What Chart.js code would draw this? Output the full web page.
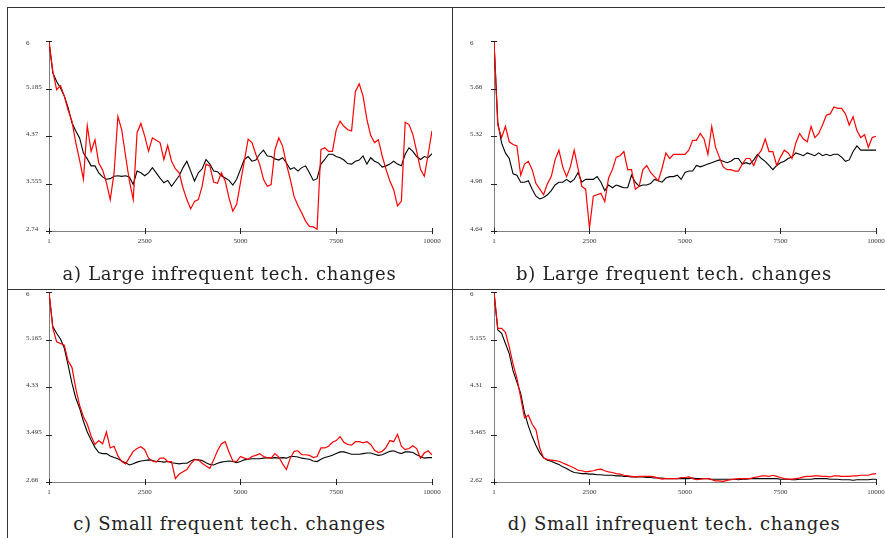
<!DOCTYPE html>
<html>
<head>
<meta charset="utf-8">
<script src="https://cdn.jsdelivr.net/npm/chart.js@4.4.1/dist/chart.umd.min.js"></script>
<style>
  html, body { margin: 0; padding: 0; background: #fff; overflow: hidden; }
  #page { position: relative; width: 885px; height: 538px; }
  canvas { position: absolute; }
  .rule { position: absolute; background: #333; }
  .caption { position: absolute; font-family: "DejaVu Serif", serif; font-size: 18px; line-height: 18px; letter-spacing: 0.7px; color: #222; text-align: center; white-space: nowrap; }
</style>
</head>
<body>
<div id="page">
  <div class="rule" style="left:7px;top:7px;width:878px;height:1px"></div>
  <div class="rule" style="left:7px;top:7px;width:1px;height:531px"></div>
  <div class="rule" style="left:452px;top:7px;width:1px;height:531px"></div>
  <div class="rule" style="left:7px;top:289px;width:878px;height:1px"></div>

  <canvas id="chartA" width="430" height="225" style="left:20px;top:30px"></canvas>
  <canvas id="chartB" width="430" height="225" style="left:464px;top:30px"></canvas>
  <canvas id="chartC" width="430" height="225" style="left:20px;top:281px"></canvas>
  <canvas id="chartD" width="430" height="225" style="left:464px;top:281px"></canvas>

  <div class="caption" style="left:7px;top:265px;width:445px">a) Large infrequent tech. changes</div>
  <div class="caption" style="left:452px;top:265px;width:444px">b) Large frequent tech. changes</div>
  <div class="caption" style="left:7px;top:515px;width:445px">c) Small frequent tech. changes</div>
  <div class="caption" style="left:452px;top:515px;width:444px">d) Small infrequent tech. changes</div>
</div>
<script>
// time steps (x) and x tick labels
const steps = [1, 100, 200, 300, 400, 500, 600, 700, 800, 900,
  1000, 1100, 1200, 1300, 1400, 1500, 1600, 1700, 1800, 1900,
  2000, 2100, 2200, 2300, 2400, 2500, 2600, 2700, 2800, 2900,
  3000, 3100, 3200, 3300, 3400, 3500, 3600, 3700, 3800, 3900,
  4000, 4100, 4200, 4300, 4400, 4500, 4600, 4700, 4800, 4900,
  5000, 5100, 5200, 5300, 5400, 5500, 5600, 5700, 5800, 5900,
  6000, 6100, 6200, 6300, 6400, 6500, 6600, 6700, 6800, 6900,
  7000, 7100, 7200, 7300, 7400, 7500, 7600, 7700, 7800, 7900,
  8000, 8100, 8200, 8300, 8400, 8500, 8600, 8700, 8800, 8900,
  9000, 9100, 9200, 9300, 9400, 9500, 9600, 9700, 9800, 9900,
  10000];
const xTicks = [1, 2500, 5000, 7500, 10000];

// a) Large infrequent tech. changes
const yTicksA = [2.74, 3.555, 4.37, 5.185, 6];
const redA = [6.00, 5.49, 5.17, 5.24, 5.06, 4.82, 4.63, 4.26, 3.96, 3.63,
  4.55, 4.11, 4.31, 3.91, 3.79, 3.57, 3.28, 3.74, 4.71, 4.48,
  4.03, 3.60, 3.28, 4.43, 4.59, 4.37, 4.11, 4.34, 4.30, 4.26,
  3.97, 4.21, 3.94, 3.81, 3.74, 3.48, 3.28, 3.12, 3.25, 3.28,
  3.51, 3.89, 3.86, 3.58, 3.56, 3.74, 3.60, 3.31, 3.08, 3.20,
  3.57, 3.94, 4.32, 4.26, 4.06, 3.89, 3.63, 3.51, 3.54, 4.14,
  4.34, 4.20, 3.89, 3.63, 3.33, 3.18, 3.05, 2.91, 2.82, 2.81,
  2.77, 4.14, 4.17, 4.11, 4.11, 4.48, 4.63, 4.54, 4.48, 4.46,
  5.14, 5.27, 5.06, 4.66, 4.38, 4.26, 4.31, 4.03, 3.80, 3.60,
  3.45, 3.17, 3.25, 4.61, 4.57, 4.40, 4.11, 3.80, 3.68, 4.06,
  4.46];
const blackA = [6.00, 5.46, 5.31, 5.20, 5.06, 4.86, 4.60, 4.46, 4.34, 4.08,
  3.98, 3.86, 3.86, 3.74, 3.67, 3.63, 3.64, 3.68, 3.69, 3.68,
  3.69, 3.67, 3.54, 3.77, 3.74, 3.69, 3.74, 3.83, 3.74, 3.65,
  3.57, 3.61, 3.51, 3.60, 3.69, 3.83, 3.94, 3.77, 3.60, 3.74,
  3.81, 3.97, 3.89, 3.77, 3.76, 3.69, 3.65, 3.61, 3.53, 3.63,
  3.80, 3.97, 4.02, 3.94, 3.96, 4.06, 4.13, 4.03, 4.02, 3.98,
  3.96, 4.00, 3.91, 3.80, 3.83, 3.77, 3.83, 3.86, 3.74, 3.61,
  3.64, 3.89, 3.97, 4.06, 4.06, 4.02, 4.00, 3.96, 3.90, 3.89,
  3.94, 3.96, 4.03, 3.89, 4.00, 3.94, 3.91, 3.84, 3.86, 3.89,
  3.94, 3.89, 3.86, 4.06, 4.17, 4.11, 4.02, 3.97, 4.02, 4.00,
  4.07];

// b) Large frequent tech. changes
const yTicksB = [4.64, 4.98, 5.32, 5.66, 6];
const redB = [6.00, 5.40, 5.31, 5.39, 5.28, 5.26, 5.25, 5.04, 5.12, 5.14,
  5.08, 4.98, 4.94, 4.90, 4.98, 5.03, 5.15, 5.22, 5.10, 5.03,
  5.10, 5.22, 5.09, 4.96, 4.94, 4.66, 4.89, 4.90, 4.91, 4.85,
  5.02, 5.08, 5.17, 5.18, 5.21, 5.08, 5.08, 4.94, 4.96, 5.08,
  5.11, 5.06, 5.03, 5.00, 5.09, 5.20, 5.16, 5.19, 5.19, 5.19,
  5.19, 5.22, 5.29, 5.29, 5.34, 5.30, 5.19, 5.39, 5.24, 5.17,
  5.10, 5.08, 5.08, 5.07, 5.07, 5.12, 5.16, 5.16, 5.11, 5.18,
  5.22, 5.30, 5.21, 5.21, 5.11, 5.17, 5.22, 5.20, 5.16, 5.27,
  5.34, 5.30, 5.28, 5.39, 5.31, 5.34, 5.40, 5.47, 5.48, 5.53,
  5.52, 5.52, 5.48, 5.40, 5.46, 5.36, 5.31, 5.33, 5.24, 5.31,
  5.32];
const blackB = [6.00, 5.42, 5.27, 5.20, 5.16, 5.05, 5.04, 4.99, 4.99, 5.00,
  4.94, 4.89, 4.87, 4.88, 4.90, 4.93, 4.97, 4.99, 4.99, 5.01,
  4.99, 5.01, 5.06, 4.99, 5.01, 5.01, 5.01, 5.03, 4.99, 4.93,
  4.97, 4.95, 4.97, 4.96, 4.95, 4.95, 5.04, 4.99, 4.96, 4.97,
  4.97, 4.98, 5.01, 5.00, 4.99, 5.02, 5.03, 5.03, 5.04, 5.01,
  5.06, 5.07, 5.07, 5.11, 5.10, 5.11, 5.12, 5.13, 5.14, 5.15,
  5.14, 5.13, 5.14, 5.16, 5.16, 5.12, 5.13, 5.12, 5.15, 5.19,
  5.16, 5.14, 5.11, 5.08, 5.11, 5.13, 5.14, 5.16, 5.17, 5.20,
  5.19, 5.18, 5.20, 5.19, 5.18, 5.20, 5.18, 5.19, 5.18, 5.19,
  5.19, 5.17, 5.14, 5.15, 5.21, 5.25, 5.22, 5.22, 5.22, 5.22,
  5.22];

// c) Small frequent tech. changes
const yTicksC = [2.66, 3.495, 4.33, 5.165, 6];
const redC = [6.00, 5.37, 5.13, 5.10, 5.07, 4.79, 4.68, 4.31, 4.01, 3.81,
  3.68, 3.47, 3.32, 3.39, 3.33, 3.54, 3.26, 3.29, 3.12, 3.02,
  2.98, 3.09, 3.20, 3.25, 3.28, 3.23, 3.08, 3.03, 3.01, 3.08,
  3.08, 3.02, 3.02, 2.72, 2.80, 2.84, 2.88, 2.98, 3.05, 3.05,
  2.99, 2.94, 2.90, 3.05, 3.21, 3.33, 3.37, 3.19, 3.03, 3.02,
  3.11, 3.08, 3.06, 3.11, 3.13, 3.16, 3.11, 3.09, 3.08, 3.16,
  3.10, 2.98, 2.88, 3.08, 3.20, 3.21, 3.14, 3.14, 3.13, 3.09,
  3.11, 3.26, 3.26, 3.29, 3.36, 3.39, 3.46, 3.36, 3.32, 3.31,
  3.37, 3.37, 3.35, 3.37, 3.32, 3.22, 3.18, 3.20, 3.27, 3.39,
  3.37, 3.50, 3.29, 3.23, 3.25, 3.30, 3.25, 3.08, 3.17, 3.21,
  3.14];
const blackC = [6.00, 5.40, 5.28, 5.18, 5.02, 4.72, 4.40, 4.14, 3.96, 3.73,
  3.54, 3.40, 3.27, 3.18, 3.16, 3.16, 3.12, 3.09, 3.07, 3.03,
  3.00, 2.96, 2.98, 3.01, 3.03, 3.04, 3.05, 3.04, 3.02, 3.02,
  3.01, 3.02, 3.00, 2.99, 2.98, 2.99, 2.99, 3.03, 3.06, 3.05,
  3.04, 3.00, 2.97, 2.96, 2.99, 3.01, 3.02, 3.03, 3.02, 3.00,
  3.02, 3.05, 3.06, 3.07, 3.07, 3.07, 3.08, 3.09, 3.08, 3.09,
  3.08, 3.09, 3.08, 3.11, 3.11, 3.10, 3.08, 3.07, 3.06, 3.03,
  3.02, 3.06, 3.09, 3.11, 3.13, 3.16, 3.19, 3.19, 3.17, 3.15,
  3.15, 3.15, 3.16, 3.17, 3.17, 3.15, 3.13, 3.14, 3.17, 3.20,
  3.21, 3.18, 3.16, 3.19, 3.19, 3.18, 3.14, 3.11, 3.08, 3.09,
  3.09];

// d) Small infrequent tech. changes
const yTicksD = [2.62, 3.465, 4.31, 5.155, 6];
const redD = [6.00, 5.36, 5.36, 5.29, 5.03, 4.72, 4.47, 4.13, 3.76, 3.81,
  3.65, 3.55, 3.22, 3.05, 3.02, 3.01, 3.00, 2.99, 2.96, 2.93,
  2.90, 2.87, 2.83, 2.82, 2.80, 2.81, 2.82, 2.84, 2.85, 2.82,
  2.80, 2.79, 2.77, 2.76, 2.74, 2.73, 2.72, 2.71, 2.72, 2.72,
  2.72, 2.72, 2.71, 2.69, 2.67, 2.68, 2.68, 2.68, 2.68, 2.70,
  2.70, 2.71, 2.68, 2.66, 2.67, 2.68, 2.68, 2.66, 2.64, 2.64,
  2.63, 2.65, 2.66, 2.67, 2.68, 2.68, 2.68, 2.68, 2.70, 2.71,
  2.73, 2.73, 2.72, 2.74, 2.72, 2.70, 2.68, 2.67, 2.67, 2.68,
  2.69, 2.71, 2.72, 2.72, 2.73, 2.73, 2.72, 2.72, 2.71, 2.73,
  2.73, 2.72, 2.72, 2.72, 2.73, 2.73, 2.74, 2.74, 2.74, 2.76,
  2.77];
const blackD = [6.00, 5.33, 5.27, 5.09, 4.91, 4.60, 4.40, 4.20, 3.85, 3.62,
  3.43, 3.27, 3.14, 3.05, 3.01, 2.99, 2.96, 2.93, 2.89, 2.86,
  2.82, 2.79, 2.78, 2.77, 2.77, 2.76, 2.76, 2.75, 2.75, 2.74,
  2.74, 2.74, 2.73, 2.73, 2.72, 2.72, 2.71, 2.71, 2.71, 2.71,
  2.70, 2.70, 2.69, 2.69, 2.69, 2.68, 2.68, 2.68, 2.68, 2.68,
  2.68, 2.68, 2.69, 2.68, 2.68, 2.68, 2.68, 2.67, 2.67, 2.67,
  2.67, 2.67, 2.67, 2.67, 2.66, 2.67, 2.67, 2.68, 2.68, 2.68,
  2.68, 2.68, 2.68, 2.68, 2.68, 2.67, 2.67, 2.67, 2.66, 2.66,
  2.67, 2.67, 2.67, 2.67, 2.68, 2.68, 2.68, 2.68, 2.67, 2.67,
  2.67, 2.66, 2.66, 2.66, 2.65, 2.66, 2.66, 2.66, 2.66, 2.67,
  2.67];

const tickFont = { family: '"Liberation Serif", "Times New Roman", serif', size: 7, lineHeight: 1.2 };

// small tick marks that cross the axis lines, like the original plot
const crossTicks = {
  id: 'crossTicks',
  afterDraw(chart) {
    const { ctx, scales: { x, y } } = chart;
    ctx.save();
    ctx.strokeStyle = '#222';
    ctx.lineWidth = 1;
    ctx.beginPath();
    x.ticks.forEach(t => {
      const px = Math.round(x.getPixelForValue(t.value)) + 0.5;
      ctx.moveTo(px, x.top - 3);
      ctx.lineTo(px, x.top + 3);
    });
    y.ticks.forEach(t => {
      const py = Math.round(y.getPixelForValue(t.value)) + 0.5;
      ctx.moveTo(y.right - 3, py);
      ctx.lineTo(y.right + 3, py);
    });
    ctx.stroke();
    ctx.restore();
  }
};

function drawPanel(canvasId, yTicks, red, black, axisWidth) {
  const yTop = yTicks[yTicks.length - 1];
  return new Chart(document.getElementById(canvasId), {
    type: 'line',
    data: {
      datasets: [{
        data: steps.map((s, i) => ({ x: s, y: red[i] })),
        borderColor: '#ff0000',
        borderWidth: 1.2,
        pointRadius: 0,
        tension: 0
      }, {
        data: steps.map((s, i) => ({ x: s, y: black[i] })),
        borderColor: '#000000',
        borderWidth: 1.1,
        pointRadius: 0,
        tension: 0
      }]
    },
    options: {
      responsive: false,
      animation: false,
      layout: { padding: { left: 6, right: 18, top: 11, bottom: 4 } },
      plugins: {
        legend: { display: false },
        tooltip: { enabled: false }
      },
      scales: {
        x: {
          type: 'linear',
          min: 1,
          max: 10000,
          afterBuildTicks: s => { s.ticks = xTicks.map(v => ({ value: v })); },
          afterFit: s => { s.height = 20; },
          grid: { drawOnChartArea: false, drawTicks: false },
          border: { color: '#808080', width: 1 },
          ticks: {
            font: tickFont,
            color: '#333',
            padding: 6,
            maxRotation: 0,
            autoSkip: false,
            callback: v => String(v)
          }
        },
        y: {
          type: 'linear',
          min: yTicks[0],
          max: yTop,
          afterBuildTicks: s => { s.ticks = yTicks.map(v => ({ value: v })); },
          afterFit: s => { s.width = axisWidth; },
          grid: { drawOnChartArea: false, drawTicks: false },
          border: { color: '#808080', width: 1 },
          ticks: {
            font: tickFont,
            color: '#333',
            crossAlign: 'far',
            labelOffset: -2,
            autoSkip: false,
            // the top label sits just below its tick in the original
            callback: v => (v === yTop ? ['', String(v)] : String(v))
          }
        }
      }
    },
    plugins: [crossTicks]
  });
}

drawPanel('chartA', yTicksA, redA, blackA, 23);
drawPanel('chartB', yTicksB, redB, blackB, 24);
drawPanel('chartC', yTicksC, redC, blackC, 23);
drawPanel('chartD', yTicksD, redD, blackD, 24);
</script>
</body>
</html>
